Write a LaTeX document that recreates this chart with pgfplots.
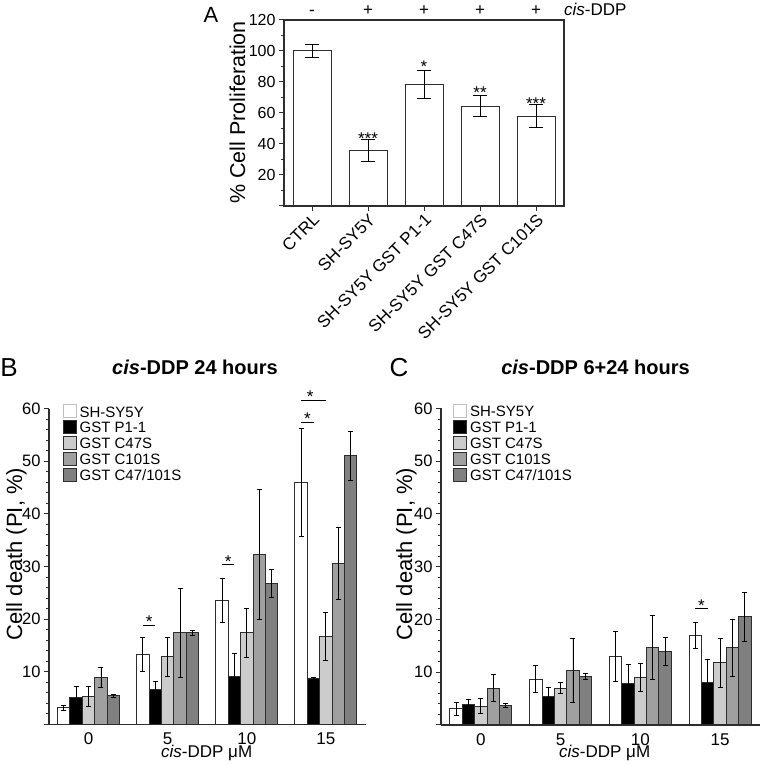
\documentclass[border=0pt]{standalone}
\usepackage{fontspec}
\setmainfont{Liberation Sans}
\usepackage{pgfplots}
\pgfplotsset{compat=1.18}
\definecolor{lgray}{RGB}{204,204,204}
\definecolor{mgray}{RGB}{160,160,160}
\definecolor{dgray}{RGB}{128,128,128}
\definecolor{edge}{RGB}{45,45,45}
\newcommand{\fs}[1]{\fontsize{#1}{#1}\selectfont}
\pgfplotsset{
  every axis/.append style={
    scale only axis, clip=false, anchor=south west,
    /pgf/number format/assume math mode=true,
    axis line style={edge, line width=1.2pt},
    every tick/.style={edge, line width=1pt},
    tick align=outside,
  },
  dbar/.style={ybar, bar width=12.4pt, bar shift=0pt, draw=edge, line width=1pt,
    error bars/y dir=both, error bars/y explicit,
    error bars/error bar style={black, line width=0.9pt},
    error bars/error mark options={rotate=90, mark size=2.5pt, line width=0.9pt, black}},
  limg/.style={legend image code/.code={\draw[##1] (0pt,-5pt) rectangle (13pt,8pt);},
    legend image post style={#1}},
  death/.style={
    width=316.5pt, height=316pt,
    xmin=-0.5, xmax=3.5, ymin=0, ymax=60,
    axis x line*=bottom, axis y line*=left,
    xtick={0,1,2,3}, xticklabels={0,5,10,15}, major x tick style={draw=none},
    ytick={0,10,...,60}, yticklabels={,10,20,30,40,50,60},
    minor y tick num=4,
    major tick length=5pt, minor tick length=3pt,
    y tick label style={font=\fs{16.5}},
    x tick label style={font=\fs{17}},
    legend style={draw=none, fill=none, inner sep=0pt, outer sep=0pt,
      font=\fs{15}, row sep=-0.8pt, column sep=3pt,
      nodes={text height=11.2pt, text depth=2.2pt, inner ysep=1.5pt, inner xsep=0pt},
      cells={anchor=west}},
    legend cell align=left,
  },
}
\begin{document}
\begin{tikzpicture}

% ---------------- Panel A ----------------
\begin{axis}[at={(284pt,560pt)}, width=280pt, height=186pt,
  xmin=-0.5, xmax=4.5, ymin=0, ymax=120,
  xtick={0,...,4},
  xticklabels={CTRL, SH-SY5Y, SH-SY5Y GST P1-1, SH-SY5Y GST C47S, SH-SY5Y GST C101S},
  x tick label style={rotate=45, anchor=north east, font=\fs{17}, inner sep=1pt},
  xtick pos=bottom, ytick pos=left,
  ytick={0,20,...,120}, yticklabels={,20,40,60,80,100,120},
  minor y tick num=1,
  major tick length=5pt, minor tick length=3pt,
  y tick label style={font=\fs{16}},
]
\addplot[ybar, bar width=38pt, fill=white, draw=edge, line width=1pt,
  error bars/y dir=both, error bars/y explicit,
  error bars/error bar style={black, line width=1pt},
  error bars/error mark options={rotate=90, mark size=7pt, line width=1pt, black}]
  table[x=x, y=y, y error=e] {
x y e
0 100 3.9
1 35.7 6.9
2 78.3 9.2
3 64.5 6.5
4 57.9 7.5
};
\node[anchor=base, font=\fs{17}] at (axis cs:1,39.4) {***};
\node[anchor=base, font=\fs{17}] at (axis cs:2,86.1) {*};
\node[anchor=base, font=\fs{17}] at (axis cs:3,69.5) {**};
\node[anchor=base, font=\fs{17}] at (axis cs:4,62.4) {***};
\node[anchor=base, font=\fs{17}, yshift=4pt] at (axis cs:0,120) {-};
\node[anchor=base, font=\fs{17}, yshift=4pt] at (axis cs:1,120) {+};
\node[anchor=base, font=\fs{17}, yshift=4pt] at (axis cs:2,120) {+};
\node[anchor=base, font=\fs{17}, yshift=4pt] at (axis cs:3,120) {+};
\node[anchor=base, font=\fs{17}, yshift=4pt] at (axis cs:4,120) {+};
\node[anchor=base west, font=\fs{17}, yshift=4pt, inner sep=0pt] at (axis cs:4.5,120) {\textit{cis}-DDP};
\end{axis}
\node[font=\fs{22}] at (211pt,751pt) {A};
\node[rotate=90, anchor=base, font=\fs{21.5}] at (245pt,653.5pt) {\% Cell Proliferation};

% ---------------- Panel B ----------------
\begin{axis}[death, at={(49pt,41.5pt)},
  legend style={at={(rel axis cs:0.043,1)}, anchor=north west, yshift=4.5pt}]
\addplot[dbar, fill=white, limg={draw=gray!50}] table[x=x,y=y,y error=e] {
x y e
-0.313 3.2 0.45
0.687 13.3 3.3
1.687 23.5 4.2
2.687 46.0 10.3
};
\addplot[dbar, fill=black, limg={draw=none}] table[x=x,y=y,y error=e] {
x y e
-0.157 5.2 2.0
0.843 6.7 1.5
1.843 9.2 4.2
2.843 8.7 0.3
};
\addplot[dbar, fill=lgray, limg={draw=none}] table[x=x,y=y,y error=e] {
x y e
0 5.4 1.9
1 12.9 3.7
2 17.4 4.6
3 16.7 4.6
};
\addplot[dbar, fill=mgray, limg={draw=none}] table[x=x,y=y,y error=e] {
x y e
0.157 8.9 1.9
1.157 17.4 8.4
2.157 32.3 12.3
3.157 30.6 6.8
};
\addplot[dbar, fill=dgray, limg={draw=none}] table[x=x,y=y,y error=e] {
x y e
0.313 5.5 0.3
1.313 17.4 0.5
2.313 26.8 2.7
3.313 51.0 4.6
};
\legend{SH-SY5Y, GST P1-1, GST C47S, GST C101S, GST C47/101S}
\draw[black, line width=1pt] (axis cs:0.687,18.8) -- (axis cs:0.843,18.8);
\node[anchor=base, font=\fs{17}] at (axis cs:0.766,18.35) {*};
\draw[black, line width=1pt] (axis cs:1.687,30.3) -- (axis cs:1.843,30.3);
\node[anchor=base, font=\fs{17}] at (axis cs:1.766,29.85) {*};
\draw[black, line width=1pt] (axis cs:2.687,57.4) -- (axis cs:2.843,57.4);
\node[anchor=base, font=\fs{17}] at (axis cs:2.766,56.95) {*};
\draw[black, line width=1pt] (axis cs:2.687,61.5) -- (axis cs:3.0,61.5);
\node[anchor=base, font=\fs{17}] at (axis cs:2.8,61.05) {*};
\end{axis}
\node[font=\fs{26}] at (9pt,398.5pt) {B};
\node[anchor=base, font=\bfseries\fs{20}] at (195pt,391pt) {\textit{cis}-DDP 24 hours};
\node[rotate=90, anchor=base, font=\fs{22}] at (22pt,212pt) {Cell death (PI, \%)};
\node[anchor=base, font=\fs{17}] at (206.7pt,9pt) {\textit{cis}-DDP μM};

% ---------------- Panel C ----------------
\begin{axis}[death, at={(441pt,41pt)}, width=319pt, height=316.5pt,
  legend style={at={(rel axis cs:0.038,1)}, anchor=north west, yshift=4.5pt}]
\addplot[dbar, fill=white, limg={draw=gray!50}] table[x=x,y=y,y error=e] {
x y e
-0.311 3.1 1.2
0.689 8.7 2.5
1.689 13.0 4.8
2.689 17.0 2.4
};
\addplot[dbar, fill=black, limg={draw=none}] table[x=x,y=y,y error=e] {
x y e
-0.155 3.9 0.9
0.845 5.4 1.8
1.845 7.9 3.6
2.845 8.1 4.4
};
\addplot[dbar, fill=lgray, limg={draw=none}] table[x=x,y=y,y error=e] {
x y e
0 3.6 1.4
1 7.0 1.0
2 9.0 2.6
3 11.8 4.7
};
\addplot[dbar, fill=mgray, limg={draw=none}] table[x=x,y=y,y error=e] {
x y e
0.155 7.0 2.6
1.155 10.3 6.1
2.155 14.7 6.1
3.155 14.6 5.4
};
\addplot[dbar, fill=dgray, limg={draw=none}] table[x=x,y=y,y error=e] {
x y e
0.311 3.7 0.3
1.311 9.2 0.5
2.311 13.9 2.7
3.311 20.5 4.7
};
\legend{SH-SY5Y, GST P1-1, GST C47S, GST C101S, GST C47/101S}
\draw[black, line width=1pt] (axis cs:2.689,22.0) -- (axis cs:2.845,22.0);
\node[anchor=base, font=\fs{17}] at (axis cs:2.767,21.55) {*};
\end{axis}
\node[font=\fs{26}] at (399pt,398.5pt) {C};
\node[anchor=base, font=\bfseries\fs{20}] at (595.5pt,391pt) {\textit{cis}-DDP 6+24 hours};
\node[rotate=90, anchor=base, font=\fs{22}] at (412pt,212pt) {Cell death (PI, \%)};
\node[anchor=base, font=\fs{17}] at (604.7pt,8.5pt) {\textit{cis}-DDP μM};

\pgfresetboundingbox
\path[use as bounding box] (0pt,0pt) rectangle (762pt,766pt);
\end{tikzpicture}
\end{document}
